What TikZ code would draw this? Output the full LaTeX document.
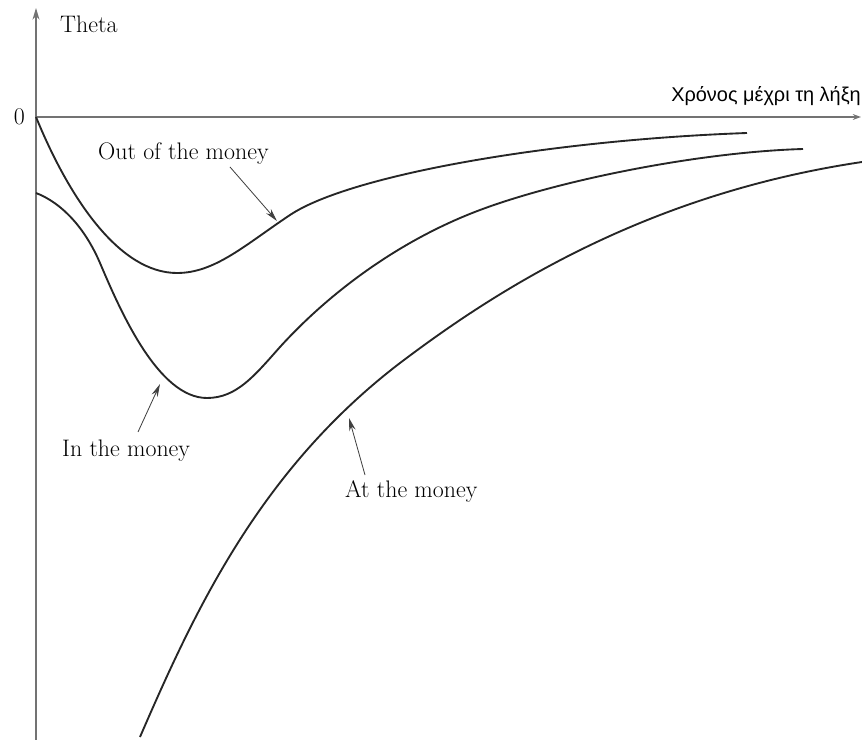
\documentclass[tikz,border=0pt]{standalone}
\usepackage{fontspec}
\newfontfamily\greekfont{Liberation Sans}
\usetikzlibrary{arrows.meta}

\begin{document}
\begin{tikzpicture}[x=0.03cm,y=-0.03cm,every node/.style={font=\fontsize{20.4}{24}\selectfont,inner sep=0pt},
    curve/.style={line width=1.6pt,black!85},
    axis/.style={line width=1pt,black!55},
    pointer/.style={line width=0.7pt,black!75,-{Stealth[length=11pt,width=5.5pt]}}]
  \useasboundingbox (0,0) rectangle (862,740);
  % axes
  \coordinate (O) at (36,117);
  \coordinate (ytop) at (36,8);
  \coordinate (ybot) at (36,740);
  \coordinate (xend) at (861,117);
  \draw[axis,-{Stealth[length=10pt,width=6pt]}] (ybot) -- (ytop);
  \draw[axis,-{Stealth[length=7pt,width=5pt,open]}] (O) -- (xend);
  \node[anchor=base west] (theta) at (60,33) {Theta};
  \node[anchor=base east] (zero) at (25,125) {0};
  \node[anchor=base east,font=\greekfont\fontsize{17}{19}\selectfont] (time) at (861,102) {Χρόνος μέχρι τη λήξη};
  % out of the money
  \draw[curve] (O) .. controls (70,200) and (120,273) .. (177,273)
    .. controls (215,273) and (245,245) .. (290,215)
    .. controls (350,175) and (550,140) .. (747,133);
  % in the money
  \draw[curve] (36,193) .. controls (62,203) and (85,228) .. (100,263)
    .. controls (120,310) and (158,398) .. (207,398)
    .. controls (237,398) and (255,375) .. (280,347)
    .. controls (330,292) and (400,240) .. (480,210)
    .. controls (560,180) and (700,152) .. (803,149);
  % at the money
  \draw[curve] (140,737) .. controls (195,610) and (260,470) .. (400,363)
    .. controls (490,295) and (640,195) .. (862,162);
  % labels
  \node[anchor=base west] (otm) at (98,160) {Out of the money};
  \node[anchor=base west] (itm) at (62,457) {In the money};
  \node[anchor=base west] (atm) at (345,498) {At the money};
  \coordinate (otmtail) at (230,167);
  \coordinate (otmtip) at (277,221);
  \coordinate (itmtail) at (138,432);
  \coordinate (itmtip) at (160,384);
  \coordinate (atmtail) at (365,475);
  \coordinate (atmtip) at (349,418);
  \draw[pointer] (otmtail) -- (otmtip);
  \draw[pointer] (itmtail) -- (itmtip);
  \draw[pointer] (atmtail) -- (atmtip);
\end{tikzpicture}
\end{document}
